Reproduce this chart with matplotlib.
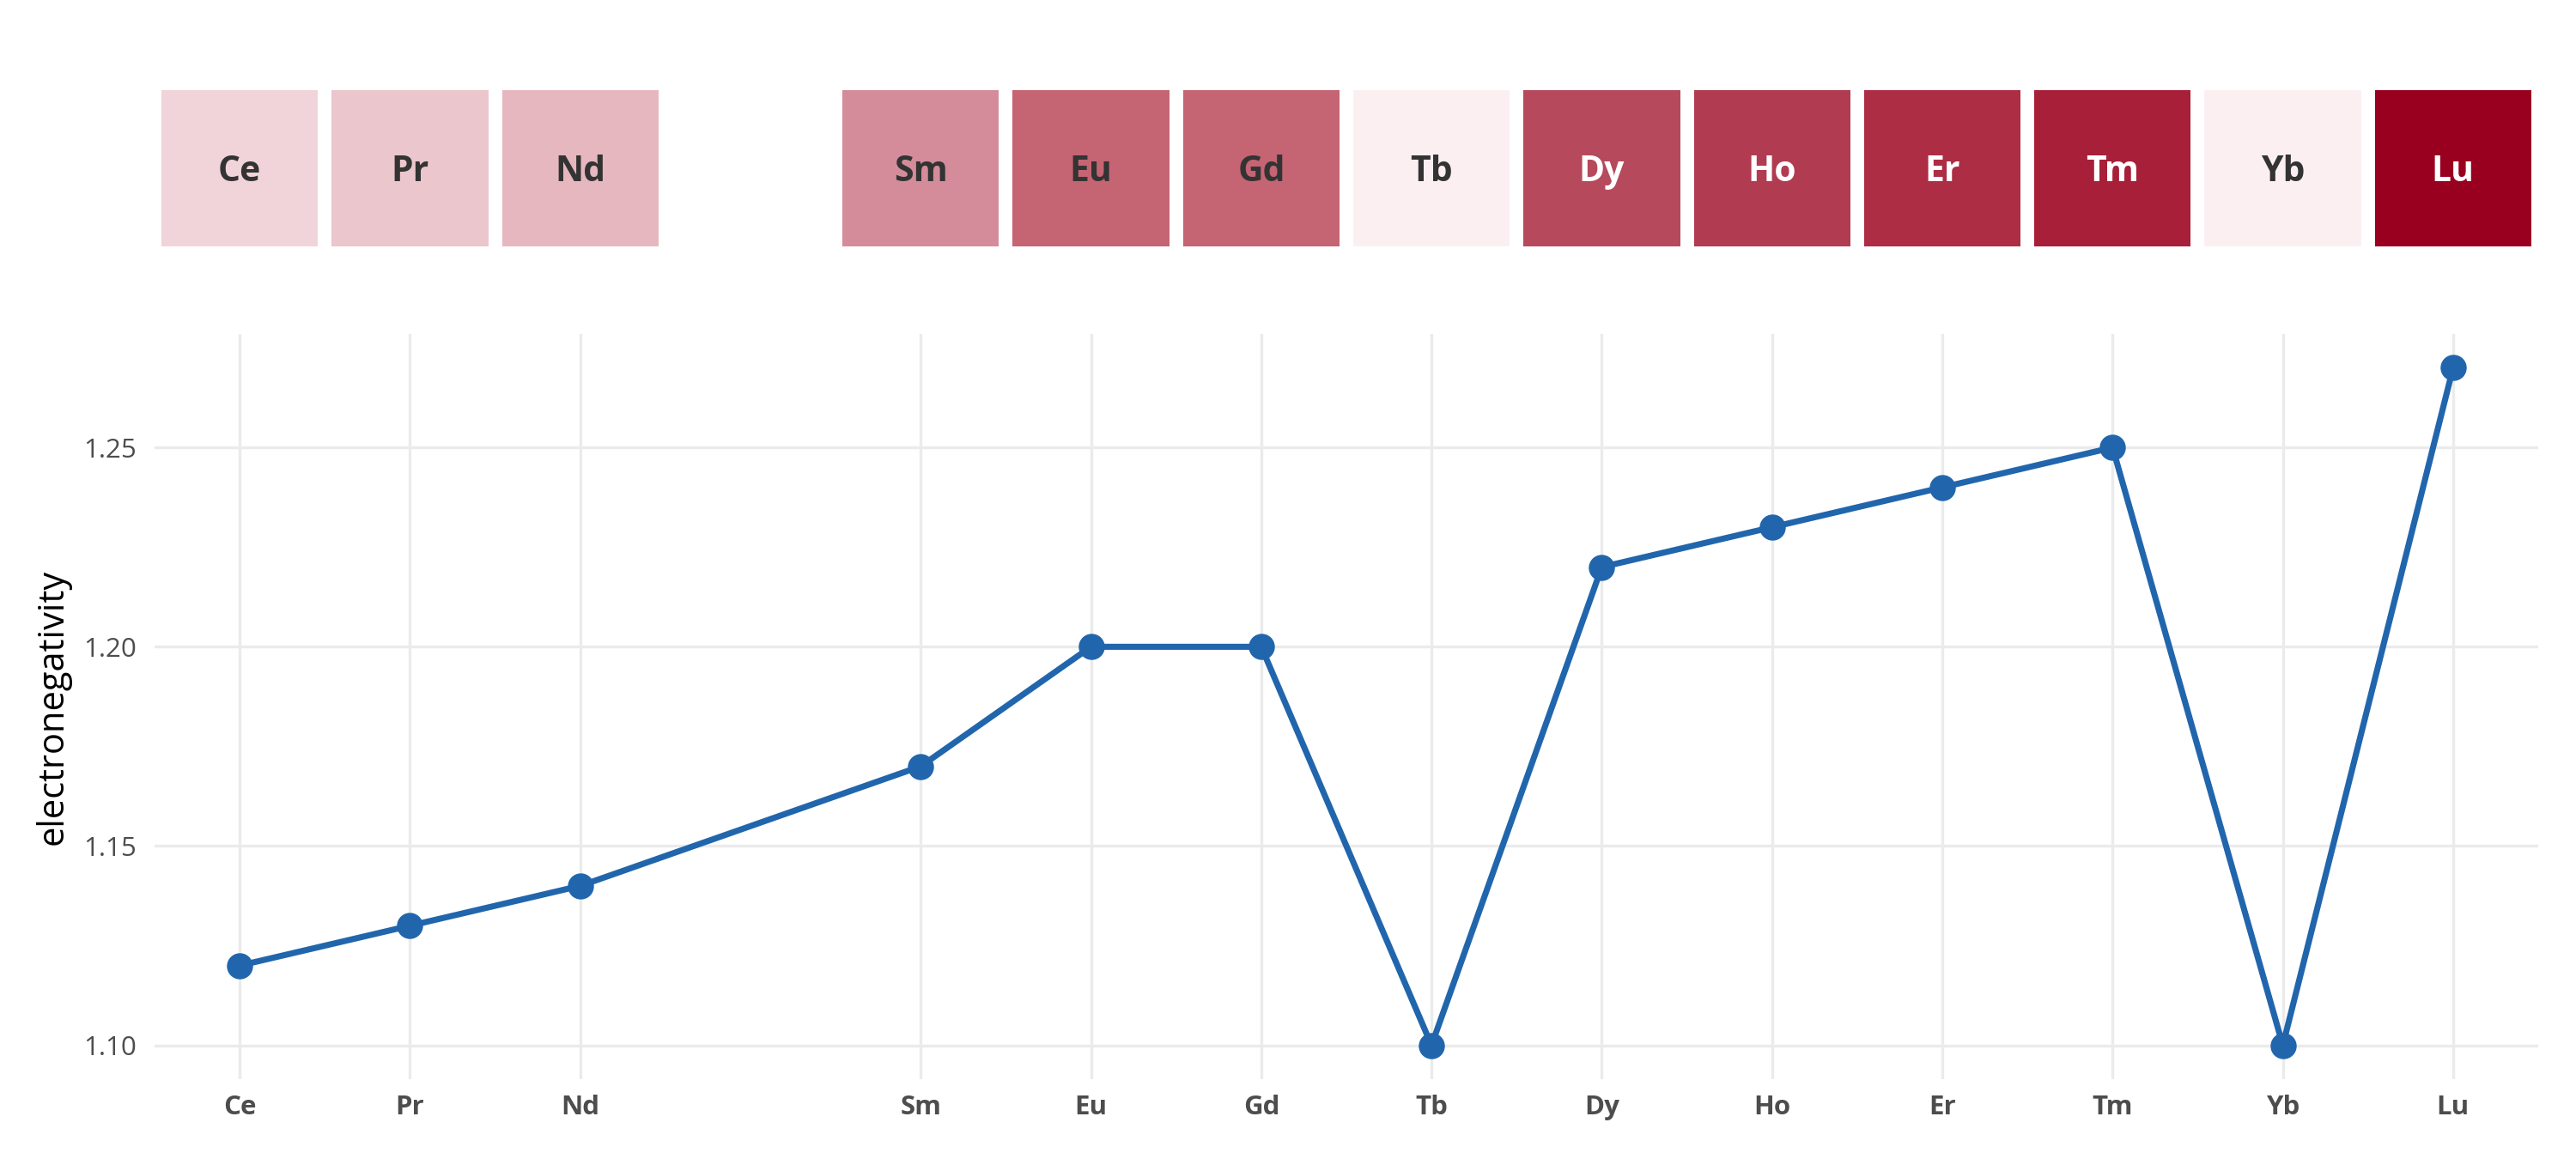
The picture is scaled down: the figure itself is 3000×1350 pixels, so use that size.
import matplotlib
matplotlib.use("Agg")
import matplotlib.pyplot as plt
from matplotlib.colors import LinearSegmentedColormap, Normalize

plt.rcParams['font.family'] = ['Open Sans', 'DejaVu Sans']

# data
elements = ["Ce", "Pr", "Nd", "Sm", "Eu", "Gd", "Tb", "Dy", "Ho", "Er", "Tm", "Yb", "Lu"]
atomic_number = [58, 59, 60, 62, 63, 64, 65, 66, 67, 68, 69, 70, 71]
electronegativity = [1.12, 1.13, 1.14, 1.17, 1.20, 1.20, 1.10, 1.22, 1.23, 1.24, 1.25, 1.10, 1.27]
y_ticks = [1.10, 1.15, 1.20, 1.25]

line_color = "#2166AC"
grid_color = "#EBEBEB"
tick_color = "#4D4D4D"

tile_cmap = LinearSegmentedColormap.from_list("tiles", [
    (0.0, "#FCEFF2"), (0.118, "#F0D4D9"), (0.235, "#E6B7BE"), (0.41, "#D48C9A"),
    (0.588, "#C56473"), (0.706, "#B6495C"), (0.882, "#A71F38"), (1.0, "#99001F")])
norm = Normalize(vmin=min(electronegativity), vmax=max(electronegativity))

W, H = 3000, 1350
fig = plt.figure(figsize=(10, 4.5), dpi=300)
fig.patch.set_facecolor("white")

x_lo, x_hi = min(atomic_number) - 0.5, max(atomic_number) + 0.5
span = max(electronegativity) - min(electronegativity)
y_lo = min(electronegativity) - 0.05 * span
y_hi = max(electronegativity) + 0.05 * span

left, right = 180 / W, 2956 / W

# main line panel
ax = fig.add_axes([left, 1 - 1257 / H, right - left, (1257 - 389) / H])
ax.plot(atomic_number, electronegativity, color=line_color, lw=1.7, zorder=3,
        solid_joinstyle="round")
ax.plot(atomic_number, electronegativity, "o", color=line_color, ms=6.3, zorder=4)
ax.set_xlim(x_lo, x_hi)
ax.set_ylim(y_lo, y_hi)
ax.set_xticks(atomic_number)
ax.set_xticklabels(elements, fontweight="bold", fontsize=7.5, color=tick_color)
ax.set_yticks(y_ticks)
ax.set_yticklabels([f"{v:.2f}" for v in y_ticks], fontsize=7.5, color=tick_color)
ax.tick_params(axis="x", length=0, pad=4.3)
ax.tick_params(axis="y", length=0, pad=5)
ax.grid(True, color=grid_color, lw=0.8)
ax.set_axisbelow(True)
for s in ax.spines.values():
    s.set_visible(False)
fig.text(62 / W, 1 - 823 / H, "electronegativity", rotation=90,
         ha="center", va="center", fontsize=10, color="black")

# tile strip on top
axt = fig.add_axes([left, 1 - 287 / H, right - left, (287 - 105) / H])
axt.set_xlim(x_lo, x_hi)
axt.set_ylim(0, 1)
tile_colors = [tile_cmap(norm(v)) for v in electronegativity]
axt.bar(atomic_number, [1] * len(atomic_number), width=0.92, bottom=0,
        color=tile_colors, linewidth=0)
for xn, el, v in zip(atomic_number, elements, electronegativity):
    txt_color = "white" if v > 1.21 else "#333333"
    axt.text(xn, 0.42, el, ha="center", va="baseline", fontsize=9.8,
             fontweight="bold", color=txt_color)
axt.axis("off")

fig.savefig("out.png", dpi=300, facecolor="white")
